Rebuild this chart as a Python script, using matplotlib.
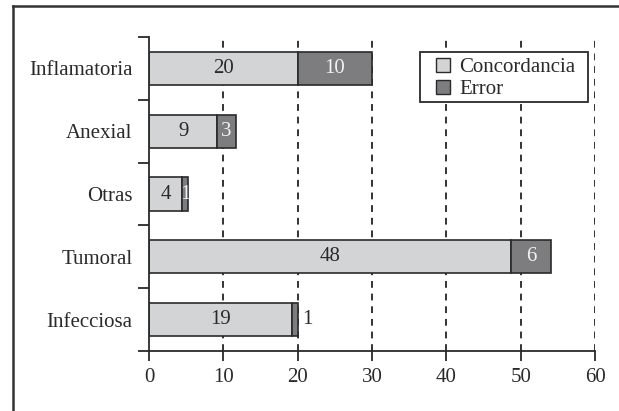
import matplotlib
matplotlib.use("Agg")
import matplotlib.pyplot as plt
from matplotlib.patches import Patch, Rectangle
from matplotlib.lines import Line2D

categories = ["Inflamatoria", "Anexial", "Otras", "Tumoral", "Infecciosa"]
concordancia = [20.0, 9.2, 4.5, 48.7, 19.3]
error = [10.0, 2.5, 0.8, 5.4, 0.75]
concordancia_labels = ["20", "9", "4", "48", "19"]
error_labels = ["10", "3", "1", "6", "1"]
xticks = [0, 10, 20, 30, 40, 50, 60]

plt.rcParams['font.family'] = ['Liberation Serif', 'DejaVu Serif']
W, H = 619, 411
fig = plt.figure(figsize=(W / 100, H / 100), dpi=100)
ax = fig.add_axes([149 / W, (H - 351) / H, (595 - 149) / W, (351 - 37) / H])

c_light = "#d3d4d6"
c_dark = "#7d7d7f"
edge = "#2a2a2a"

n = len(categories)
ypos = list(range(n))[::-1]  # top first
bh = 0.53

for x in xticks[1:]:
    ax.axvline(x, color="#333333", lw=1.4, ls=(0, (3.5, 3.0)), zorder=0)

ax.barh(ypos, concordancia, height=bh, color=c_light, edgecolor=edge, linewidth=1.2, zorder=2)
ax.barh(ypos, error, left=concordancia, height=bh, color=c_dark, edgecolor=edge, linewidth=1.2, zorder=2)

fs = 15
for y, c, e, cl, el in zip(ypos, concordancia, error, concordancia_labels, error_labels):
    ax.text(c / 2, y, cl, ha="center", va="center", fontsize=fs, color="#2a2a2a", zorder=3)
    if e >= 1.5:
        ax.text(c + e / 2, y, el, ha="center", va="center", fontsize=fs, color="#f2f2f2", zorder=3)
    elif c + e > 15:
        ax.text(c + e + 1.3, y, el, ha="center", va="center", fontsize=fs, color="#2a2a2a", zorder=3)
    else:
        ax.text(c + e / 2, y, el, ha="center", va="center", fontsize=fs, color="#f2f2f2", zorder=3)

ax.set_xlim(0, 60)
ax.set_ylim(-0.5, n - 0.5)
ax.set_xticks(xticks)
ax.set_xticklabels([str(t) for t in xticks], fontsize=fs, color="#2a2a2a")
ax.set_yticks([i - 0.5 for i in range(n + 1)], minor=False)
ax.set_yticklabels([""] * (n + 1))
ax.set_yticks(ypos, minor=True)
ax.set_yticklabels(categories, minor=True, fontsize=fs, color="#2a2a2a")
ax.tick_params(axis="y", which="minor", length=0, pad=12)
ax.tick_params(axis="y", which="major", length=8, width=1.3, direction="out", color="#2a2a2a")
ax.tick_params(axis="x", length=7, width=1.3, direction="out", color="#2a2a2a", pad=5)
for s in ["top", "right"]:
    ax.spines[s].set_visible(False)
for s in ["left", "bottom"]:
    ax.spines[s].set_linewidth(1.3)
    ax.spines[s].set_color("#2a2a2a")

# legend frame drawn manually (figure pixel box 420..588 x 52..102)
fig.add_artist(Rectangle((420 / W, 1 - 102 / H), (588 - 420) / W, 50 / H, transform=fig.transFigure,
                         facecolor="white", edgecolor=edge, linewidth=1.3, zorder=5))
handles = [Patch(facecolor=c_light, edgecolor=edge, linewidth=1.0, label="Concordancia"),
           Patch(facecolor=c_dark, edgecolor=edge, linewidth=1.0, label="Error")]
leg = fig.legend(handles=handles, loc="upper left", bbox_to_anchor=(436 / W, 1 - 58 / H),
                 fontsize=fs, frameon=False,
                 handlelength=0.65, handleheight=0.65, handletextpad=0.45, borderpad=0,
                 labelspacing=0.12, borderaxespad=0)
leg.set_zorder(6)
for t in leg.get_texts():
    t.set_color("#2a2a2a")

# outer border (left and top)
fig.add_artist(Line2D([12.5 / W, 12.5 / W], [0, 1 - 6.5 / H], transform=fig.transFigure, color="#333333", lw=1.8))
fig.add_artist(Line2D([12.5 / W, 1], [1 - 6.5 / H, 1 - 6.5 / H], transform=fig.transFigure, color="#333333", lw=1.8))

fig.savefig("out.png", dpi=100)
